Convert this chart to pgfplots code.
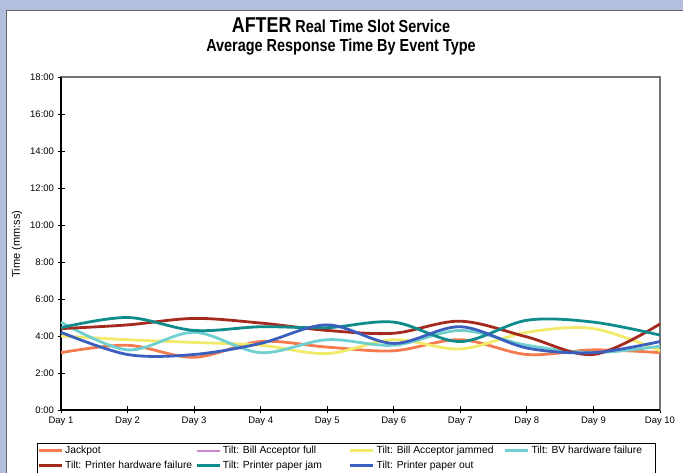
\documentclass[border=0pt]{standalone}
\usepackage{pgfplots}
\pgfplotsset{compat=1.18}
\usepackage{fontspec}
\setmainfont{Liberation Sans}
\newfontfamily\narrowfont[FakeStretch=0.83]{Liberation Sans}
\definecolor{lav}{HTML}{B3BFDD}
\definecolor{cjack}{HTML}{F47A50}
\definecolor{cpink}{HTML}{CC88CC}
\definecolor{cyel}{HTML}{F2EA6A}
\definecolor{ccyan}{HTML}{70CFCF}
\definecolor{cdred}{HTML}{A52A1E}
\definecolor{cteal}{HTML}{0E8C8C}
\definecolor{cblue}{HTML}{3A5FBF}
\begin{document}
\begin{tikzpicture}[x=1pt,y=1pt]
\useasboundingbox (0,0) rectangle (683,473);
\clip (0,0) rectangle (683,473);
\fill[white] (0,0) rectangle (683,473);
\fill[lav] (0,463) rectangle (683,473);
\fill[lav] (0,0) rectangle (6,473);
\draw[black!60, line width=1.2pt] (6.6,0) -- (6.6,462.4) -- (683,462.4);
\node[font=\narrowfont\bfseries\fontsize{17.4}{20}\selectfont] at (341,448) {{\fontsize{21.5}{23}\selectfont AFTER} Real Time Slot Service};
\node[font=\narrowfont\bfseries\fontsize{17.4}{20}\selectfont] at (341,426) {Average Response Time By Event Type};
\node[rotate=90, font=\fontsize{11}{13}\selectfont] at (17,229) {Time (mm:ss)};
\begin{axis}[
  at={(61pt,63pt)}, anchor=south west,
  scale only axis, width=599pt, height=333pt,
  xmin=1, xmax=10, ymin=0, ymax=18,
  xtick={1,...,10},
  xticklabels={Day 1,Day 2,Day 3,Day 4,Day 5,Day 6,Day 7,Day 8,Day 9,Day 10},
  ytick={0,2,...,18},
  yticklabels={0:00,2:00,4:00,6:00,8:00,10:00,12:00,14:00,16:00,18:00},
  ticklabel style={font=\fontsize{9.5}{11}\selectfont},
  tick align=center, major tick length=7pt,
  tick style={black, line width=0.9pt},
  xtick pos=bottom, ytick pos=left,
  axis line style={black!55, line width=1.3pt},
  clip=false,
  every axis plot/.append style={line width=2.8pt, smooth, tension=0.55},
  legend columns=4,
  legend cell align=left,
  legend style={at={(-0.040,-0.099)}, anchor=north west, draw=black, line width=0.6pt,
    font=\fontsize{10.3}{12}\selectfont, inner xsep=0pt, inner ysep=1pt,
    row sep=2pt, /tikz/every even column/.append style={column sep=0pt}},
  legend image code/.code={\draw[#1] (-2pt,0pt) -- (21pt,0pt);},
]
\draw[black, line width=1.2pt] (rel axis cs:0,1) -- (rel axis cs:0,0) -- (rel axis cs:1,0);
\addplot[cjack] coordinates {(1,3.1) (2,3.5) (3,2.85) (4,3.7) (5,3.4) (6,3.2) (7,3.8) (8,3.0) (9,3.25) (10,3.1)};
\addlegendentry{\makebox[128pt][l]{Jackpot}}
\addlegendimage{cpink, line width=1.8pt}
\addlegendentry{\makebox[124pt][l]{Tilt: Bill Acceptor full}}
\addplot[cyel] coordinates {(1,4.0) (2,3.8) (3,3.65) (4,3.5) (5,3.05) (6,3.8) (7,3.3) (8,4.2) (9,4.4) (10,3.2)};
\addlegendentry{\makebox[125pt][l]{Tilt: Bill Acceptor jammed}}
\addplot[ccyan] coordinates {(1,4.75) (2,3.25) (3,4.2) (4,3.1) (5,3.8) (6,3.5) (7,4.3) (8,3.5) (9,3.1) (10,3.45)};
\addlegendentry{\makebox[122pt][l]{Tilt: BV hardware failure}}
\addplot[cdred] coordinates {(1,4.4) (2,4.6) (3,4.95) (4,4.7) (5,4.3) (6,4.15) (7,4.8) (8,3.95) (9,3.0) (10,4.65)};
\addlegendentry{\makebox[128pt][l]{Tilt: Printer hardware failure}}
\addplot[cteal] coordinates {(1,4.45) (2,5.0) (3,4.3) (4,4.5) (5,4.45) (6,4.75) (7,3.7) (8,4.85) (9,4.75) (10,4.05)};
\addlegendentry{\makebox[124pt][l]{Tilt: Printer paper jam}}
\addplot[cblue] coordinates {(1,4.2) (2,3.0) (3,3.0) (4,3.6) (5,4.6) (6,3.6) (7,4.5) (8,3.35) (9,3.1) (10,3.7)};
\addlegendentry{\makebox[125pt][l]{Tilt: Printer paper out}}
\end{axis}
\end{tikzpicture}
\end{document}
